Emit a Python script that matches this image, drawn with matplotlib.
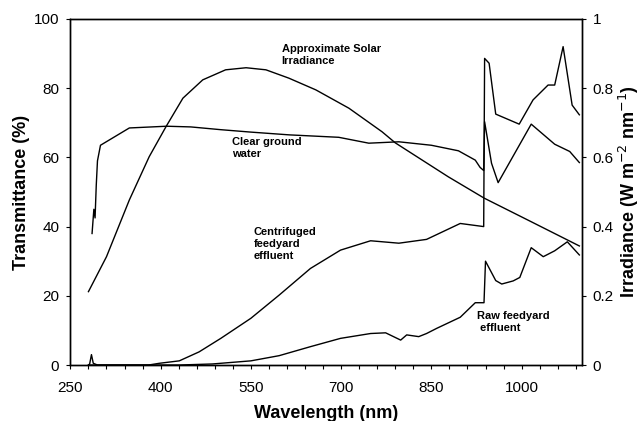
import matplotlib
matplotlib.use("Agg")
import matplotlib.pyplot as plt
from matplotlib.ticker import FixedLocator

plt.rcParams['font.family'] = ['Liberation Sans', 'DejaVu Sans']

# solar irradiance (right axis, W m-2 nm-1)
wl_solar = [280, 310, 348, 381, 409, 437, 470, 508, 542, 575, 613, 658, 713, 768,
            790, 878, 938, 1016, 1096]
solar = [0.212, 0.313, 0.477, 0.602, 0.689, 0.771, 0.824, 0.853, 0.859, 0.853, 0.829,
         0.795, 0.742, 0.674, 0.642, 0.544, 0.482, 0.414, 0.344]

# clear ground water transmittance (%)
wl_clear = [286, 289, 291, 293, 295, 300, 348, 410, 450, 500, 550, 614, 696, 746, 796,
            850, 895, 923, 931, 937, 938.5, 950, 961, 1016, 1055, 1080, 1096]
clear = [38, 45, 42.5, 52, 59, 63.5, 68.5, 69, 68.8, 68, 67.3, 66.5, 65.8, 64.1, 64.5,
         63.5, 61.9, 59.2, 57.1, 56.2, 70.3, 58.3, 52.7, 69.6, 63.8, 61.7, 58.5]

# centrifuged feedyard effluent (%)
wl_cent = [280, 380, 398, 431, 464, 500, 550, 597, 649, 699, 749, 796, 842, 898, 937,
           938.5, 946, 957, 996, 1019, 1044, 1055, 1069, 1084, 1096]
cent = [0, 0, 0.5, 1.2, 3.8, 7.7, 13.5, 20.2, 27.9, 33.2, 35.9, 35.2, 36.3, 40.9, 40,
        88.6, 87.2, 72.5, 69.6, 76.6, 80.9, 80.9, 92, 75.1, 72.3]

# raw feedyard effluent (%)
wl_raw = [280, 282, 285, 288, 295, 431, 486, 550, 597, 649, 699, 749, 774, 799, 809,
          829, 842, 859, 898, 923, 937.5, 940, 957, 967, 986, 997, 1016, 1036, 1055,
          1076, 1096]
raw = [0, 0.3, 3, 0.5, 0, 0, 0.3, 1.2, 2.7, 5.3, 7.7, 9.1, 9.3, 7.2, 8.7, 8.2, 9.1,
       10.6, 13.8, 18, 18, 30, 24.4, 23.4, 24.3, 25.3, 33.9, 31.3, 33, 35.6, 31.8]

x_ticks = [250, 400, 550, 700, 850, 1000]
x_minor = list(range(250, 1101, 30))
t_ticks = [0, 20, 40, 60, 80, 100]
irr_ticks = [0, 0.2, 0.4, 0.6, 0.8, 1.0]
irr_labels = ['0', '0.2', '0.4', '0.6', '0.8', '1']

fig = plt.figure(figsize=(6.4, 4.21), dpi=100)
ax = fig.add_axes([0.110, 0.133, 0.799, 0.822])
ax2 = ax.twinx()

lw = 1.0
ax.plot(wl_clear, clear, color='black', lw=lw)
ax.plot(wl_cent, cent, color='black', lw=lw)
ax.plot(wl_raw, raw, color='black', lw=lw)
ax2.plot(wl_solar, solar, color='black', lw=lw)

ax.set_xlim(250, 1100)
ax.set_ylim(0, 100)
ax2.set_ylim(0, 1)

ax.set_xticks(x_ticks)
ax.xaxis.set_minor_locator(FixedLocator(x_minor))
ax.set_yticks(t_ticks)
ax2.set_yticks(irr_ticks)
ax2.set_yticklabels(irr_labels)

for a in (ax, ax2):
    a.tick_params(which='both', direction='out', length=3, width=0.8, labelsize=11,
                  pad=5)
    for s in a.spines.values():
        s.set_linewidth(1.0)
ax.tick_params(axis='x', which='both', pad=8.5)

ax.set_xlabel('Wavelength (nm)', fontsize=13, fontweight='bold', labelpad=7)
ax.set_ylabel('Transmittance (%)', fontsize=13, fontweight='bold', labelpad=3)
ax2.set_ylabel('Irradiance (W m$^{-2}$ nm$^{-1}$)', fontsize=13, fontweight='bold',
               labelpad=2)

kw = dict(fontsize=8, fontweight='bold', ha='left', va='center', linespacing=1.25)
ax.text(601, 89.5, 'Approximate Solar\nIrradiance', **kw)
ax.text(519, 62.6, 'Clear ground\nwater', **kw)
ax.text(554, 35, 'Centrifuged\nfeedyard\neffluent', **kw)
ax.text(926, 12.5, 'Raw feedyard\n effluent', **kw)

fig.savefig('out.png', dpi=100)
